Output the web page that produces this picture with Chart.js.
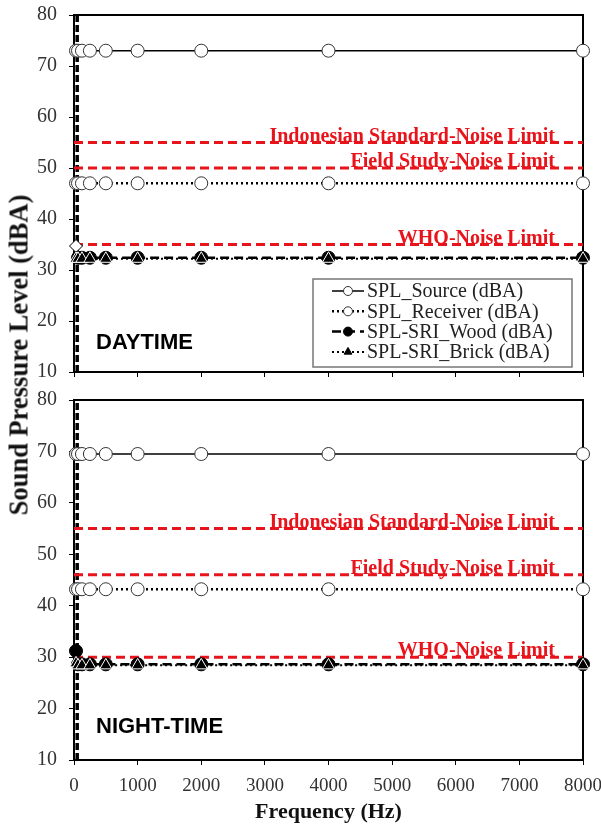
<!DOCTYPE html>
<html>
<head>
<meta charset="utf-8">
<script src="https://cdn.jsdelivr.net/npm/chart.js@4.4.0/dist/chart.umd.min.js"></script>
<style>
  body { margin: 0; background: #fff; }
  #wrap { position: relative; width: 601px; height: 827px; }
  canvas { position: absolute; left: 0; }
  #dayChart { top: 0; }
  #nightChart { top: 385px; }
  #yTitle {
    position: absolute; left: 19px; top: 355px;
    transform: translate(-50%, -50%) rotate(-90deg);
    font: bold 26.5px "Liberation Serif", serif; color: #111; white-space: nowrap;
  }
</style>
</head>
<body>
<div id="wrap">
  <canvas id="dayChart" width="601" height="385"></canvas>
  <canvas id="nightChart" width="601" height="442"></canvas>
  <div id="yTitle">Sound Pressure Level (dBA)</div>
</div>
<script>
// octave band centre frequencies (Hz)
const freqHz = [31.5, 63, 125, 250, 500, 1000, 2000, 4000, 8000];

// daytime levels (dBA)
const daySource   = [73, 73, 73, 73, 73, 73, 73, 73, 73];
const dayReceiver = [47, 47, 47, 47, 47, 47, 47, 47, 47];
const dayWood     = [34.7, 32.4, 32.4, 32.4, 32.4, 32.4, 32.4, 32.4, 32.4];
const dayBrick    = [32.2, 32.2, 32.2, 32.2, 32.2, 32.2, 32.2, 32.2, 32.2];

// night-time levels (dBA)
const nightSource   = [69.5, 69.5, 69.5, 69.5, 69.5, 69.5, 69.5, 69.5, 69.5];
const nightReceiver = [43.2, 43.2, 43.2, 43.2, 43.2, 43.2, 43.2, 43.2, 43.2];
const nightWood     = [31.2, 28.6, 28.6, 28.6, 28.6, 28.6, 28.6, 28.6, 28.6];
const nightBrick    = [28.8, 28.4, 28.4, 28.4, 28.4, 28.4, 28.4, 28.4, 28.4];

// noise limits
const limitNames  = ['Indonesian Standard-Noise Limit', 'Field Study-Noise Limit', 'WHO-Noise Limit'];
const dayLimits   = [55, 50, 35];
const nightLimits = [55, 46, 30];

const seriesNames = ['SPL_Source (dBA)', 'SPL_Receiver (dBA)', 'SPL-SRI_Wood (dBA)', 'SPL-SRI_Brick (dBA)'];

// dashed marker line along the low-frequency edge
const edgeFreq = 50;
const edgeLevels = [10, 80];

const xMin = 0, xMax = 8000, xStep = 1000;
const yMin = 10, yMax = 80, yStep = 10;

const serif = '"Liberation Serif", "Times New Roman", serif';

function pts(vals) {
  return vals.map((v, i) => ({ x: freqHz[i], y: v }));
}

const styles = [
  { borderWidth: 1.5, borderDash: [], pointStyle: 'circle', fill: '#fff', edge: '#333', radius: 6.5 },
  { borderWidth: 2.5, borderDash: [2, 3], pointStyle: 'circle', fill: '#fff', edge: '#333', radius: 6.5 },
  { borderWidth: 2.5, borderDash: [9, 5], pointStyle: 'circle', fill: '#000', edge: '#000', radius: 6.5 },
  { borderWidth: 2, borderDash: [2, 3], pointStyle: 'triangle', fill: '#000', edge: '#fff', radius: 7 }
];

function buildDatasets(series, limits, firstWhite) {
  const sets = series.map((vals, i) => {
    const s = styles[i];
    const special = i === 2 && firstWhite;
    return {
      label: seriesNames[i],
      data: pts(vals),
      borderColor: '#000',
      borderWidth: s.borderWidth,
      borderDash: s.borderDash,
      pointStyle: special ? (c => c.dataIndex === 0 ? 'rectRot' : 'circle') : s.pointStyle,
      pointBackgroundColor: special ? (c => c.dataIndex === 0 ? '#fff' : '#000') : s.fill,
      pointBorderColor: s.edge,
      pointBorderWidth: 1,
      pointRadius: s.radius,
      order: [4, 3, 2, 1][i],
      clip: false
    };
  });
  limits.forEach((v, i) => {
    sets.push({
      label: limitNames[i],
      data: [{ x: xMin, y: v }, { x: xMax, y: v }],
      borderColor: '#e8141b',
      borderWidth: 3,
      borderDash: [9, 5],
      pointRadius: 0,
      order: 5
    });
  });
  sets.push({
    label: 'edge',
    data: edgeLevels.map(v => ({ x: edgeFreq, y: v })),
    borderColor: '#000',
    borderWidth: 3.5,
    borderDash: [7, 3],
    pointRadius: 0,
    order: 6
  });
  return sets;
}

// frame under the marks; limit captions, panel caption and legend on top
const overlay = {
  id: 'overlay',
  beforeDatasetsDraw(chart) {
    const { ctx, chartArea: a } = chart;
    ctx.save();
    ctx.strokeStyle = '#000';
    ctx.lineWidth = 2;
    ctx.strokeRect(a.left, a.top, a.right - a.left, a.bottom - a.top);
    ctx.restore();
  },
  afterDatasetsDraw(chart, args, opts) {
    const { ctx, chartArea: a, scales } = chart;
    ctx.save();
    ctx.setLineDash([]);

    ctx.fillStyle = '#e8141b';
    ctx.font = 'bold 20px ' + serif;
    ctx.textAlign = 'right';
    ctx.textBaseline = 'alphabetic';
    opts.limits.forEach((v, i) => {
      ctx.fillText(limitNames[i], a.right - 28, scales.y.getPixelForValue(v) - 1);
    });

    ctx.fillStyle = '#000';
    ctx.font = 'bold 22px "Liberation Sans", Arial, sans-serif';
    ctx.textAlign = 'left';
    ctx.textBaseline = 'middle';
    ctx.fillText(opts.caption, a.left + 22, a.bottom - opts.captionOffset);

    if (opts.legend) {
      const bx = a.left + 239, by = a.bottom - 93, bw = 259, bh = 88;
      ctx.strokeStyle = '#777';
      ctx.lineWidth = 1.5;
      ctx.strokeRect(bx, by, bw, bh);
      seriesNames.forEach((name, i) => {
        const s = styles[i];
        const y = by + 12 + i * 20.3;
        ctx.strokeStyle = '#000';
        ctx.lineWidth = s.borderWidth;
        ctx.setLineDash(s.borderDash);
        ctx.beginPath();
        ctx.moveTo(bx + 19, y);
        ctx.lineTo(bx + 51, y);
        ctx.stroke();
        ctx.setLineDash([]);
        ctx.fillStyle = s.fill;
        ctx.strokeStyle = s.edge === '#fff' ? '#000' : s.edge;
        ctx.lineWidth = 1;
        Chart.helpers.drawPoint(ctx, { pointStyle: s.pointStyle, radius: 4.5, borderWidth: 1 }, bx + 35, y);
        ctx.fillStyle = '#222';
        ctx.font = '20px ' + serif;
        ctx.textAlign = 'left';
        ctx.textBaseline = 'middle';
        ctx.fillText(name, bx + 54, y + 1);
      });
    }
    ctx.restore();
  }
};

function panelOptions(isBottom, limits, caption, legend) {
  return {
    responsive: false,
    animation: false,
    events: [],
    layout: { autoPadding: false, padding: { top: 15, right: 18, left: 0, bottom: 0 } },
    plugins: {
      legend: { display: false },
      tooltip: { enabled: false },
      overlay: { limits: limits, caption: caption, legend: legend, captionOffset: isBottom ? 33 : 29 }
    },
    scales: {
      x: {
        type: 'linear',
        min: xMin, max: xMax,
        afterFit(s) {
          s.height = isBottom ? 67 : 13;
          s.paddingLeft = 0; s.paddingRight = 0;
        },
        ticks: {
          stepSize: xStep,
          maxRotation: 0,
          padding: 10,
          color: '#333',
          font: { family: serif, size: 19 },
          callback: v => String(v),
          display: isBottom
        },
        grid: { drawOnChartArea: false, color: '#000', tickLength: 5, tickWidth: 1 },
        border: { color: '#000', width: 2 },
        title: {
          display: isBottom,
          text: 'Frequency (Hz)',
          color: '#111',
          font: { family: serif, size: 22, weight: 'bold' },
          padding: { top: 0, bottom: 1 }
        }
      },
      y: {
        min: yMin, max: yMax,
        afterFit(s) {
          s.width = 74;
          s.paddingTop = 0; s.paddingBottom = 0;
        },
        ticks: {
          stepSize: yStep,
          padding: 12,
          color: '#333',
          font: { family: serif, size: 20 }
        },
        grid: { drawOnChartArea: false, color: '#000', tickLength: 5, tickWidth: 1 },
        border: { color: '#000', width: 2 }
      }
    }
  };
}

new Chart(document.getElementById('dayChart').getContext('2d'), {
  type: 'line',
  data: { datasets: buildDatasets([daySource, dayReceiver, dayWood, dayBrick], dayLimits, true) },
  options: panelOptions(false, dayLimits, 'DAYTIME', true),
  plugins: [overlay]
});

new Chart(document.getElementById('nightChart').getContext('2d'), {
  type: 'line',
  data: { datasets: buildDatasets([nightSource, nightReceiver, nightWood, nightBrick], nightLimits, false) },
  options: panelOptions(true, nightLimits, 'NIGHT-TIME', false),
  plugins: [overlay]
});
</script>
</body>
</html>
